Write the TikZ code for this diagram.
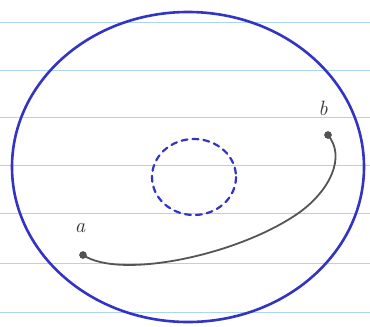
\documentclass[tikz,border=0pt]{standalone}
\usepackage{tikz}

\definecolor{penblue}{RGB}{52,52,196}
\definecolor{pengray}{RGB}{85,85,85}
\definecolor{ruleblue}{RGB}{175,212,236}

\begin{document}
\begin{tikzpicture}[x=1pt,y=-1pt,
    endpt/.style={circle,fill=pengray,draw=pengray!70!black,inner sep=0pt,minimum size=7pt},
    lab/.style={font=\huge\itshape,text=black!80}]
  % --- paper and bounding box ---
  \fill[white] (0,0) rectangle (370,327);
  \useasboundingbox (0,0) rectangle (370,327);

  % --- ruled lines ---
  \foreach \y in {22,70,117,165,213,263,312} {
    \draw[ruleblue,line width=1pt] (0,\y) -- (370,\y);
  }

  % --- outer circle ---
  \draw[penblue,line width=2.6pt] (188,167) ellipse [x radius=176,y radius=155];

  % --- dashed hole ---
  \draw[penblue,line width=2.2pt,dash pattern=on 6pt off 5pt,line cap=round]
    (194,177) ellipse [x radius=42,y radius=38];

  % --- end points a, b ---
  \node[endpt] (a) at (83,255) {};
  \node[endpt] (b) at (328,135) {};
  \node[lab] (la) at (80,228) {a};
  \node[lab] (lb) at (323,108) {b};

  % --- path from a to b ---
  \draw[pengray,line width=1.8pt] (a.center) .. controls (120,280) and (240,255) .. (300,212)
    .. controls (330,190) and (346,157) .. (b.center);
\end{tikzpicture}
\end{document}
